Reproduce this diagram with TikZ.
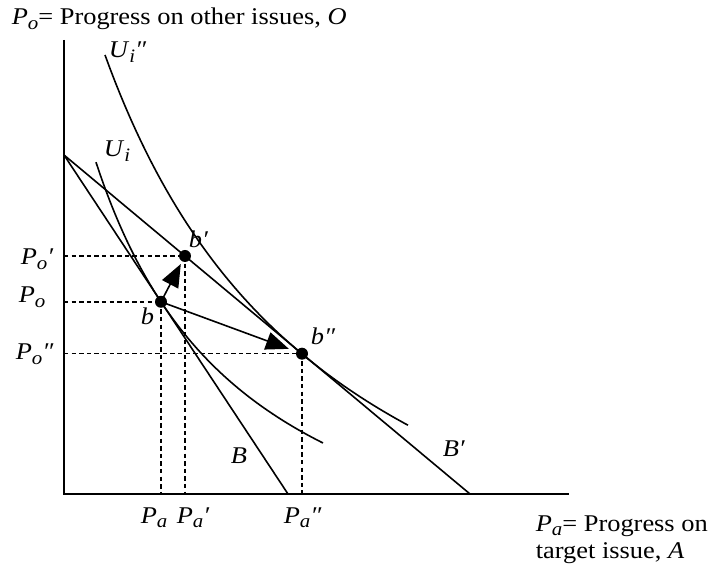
\documentclass[tikz,border=0pt]{standalone}
\usepackage{fontspec}
\setmainfont[FakeStretch=1.1]{Liberation Serif}
\usetikzlibrary{arrows.meta}
\newcommand{\varsub}[2]{\textit{#1}\raisebox{-2.2pt}{\fontsize{9.5}{11}\selectfont\textit{#2}}}

\begin{document}
\begin{tikzpicture}[x=5pt, y=5pt, line width=0.8pt,
  font=\fontsize{12}{13.5}\selectfont,
  axis/.style={line width=1.1pt},
  guide/.style={dash pattern=on 2.2pt off 1.6pt},
  move/.style={-{Triangle[length=11.5pt,width=9pt]}},
  dot/.style={circle, fill, inner sep=0pt, minimum size=6pt},
  lab/.style={anchor=base west, inner sep=0pt}]

  \useasboundingbox (-6.4,-7.4) rectangle (65.4,49.4);

  \coordinate (O) at (0,0);
  \coordinate (Y) at (0,45.4);
  \coordinate (X) at (50.5,0);
  \coordinate (Bt) at (0,33.9);
  \coordinate (B0) at (22.4,0);
  \coordinate (B1) at (40.6,0);
  \coordinate (b) at (9.7,19.22);
  \coordinate (b1) at (12.1,23.8);
  \coordinate (b2) at (23.8,14.03);

  % axes
  \draw[axis] (Y) -- (O) -- (X);

  % budget lines B and B'
  \draw (Bt) -- (B0);
  \draw (Bt) -- (B1);

  % indifference curves U_i and U_i''
  \draw plot[domain=3.2:25.9, samples=60] (\x, {732.3/(\x+12.3)-14.07});
  \draw plot[domain=4.1:34.4, samples=60] (\x, {1601.9/(\x+20)-22.57});

  % dashed guides to the axes
  \foreach \p in {b, b1, b2} {
    \draw[guide] (\p -| O) -- (\p);
    \draw[guide] (\p) -- (\p |- O);
  }

  % moves from b
  \draw[move, shorten >=4.5pt] (b) -- (b1);
  \draw[move, shorten >=7pt] (b) -- (b2);

  \foreach \p in {b, b1, b2} \node[dot] (d\p) at (\p) {};

  % labels
  \node[lab] (lUi2) at (4.4,43.6) {\varsub{U}{i}\textit{″}};
  \node[lab] (lUi)  at (3.9,33.7) {\varsub{U}{i}};
  \node[lab] (lb)   at (7.6,16.9) {\textit{b}};
  \node[lab] (lb1)  at (12.4,24.6) {\textit{b′}};
  \node[lab] (lb2)  at (24.6,14.9) {\textit{b″}};
  \node[lab] (lB)   at (16.6,3.1) {\textit{B}};
  \node[lab] (lB1)  at (37.8,3.7) {\textit{B′}};

  \node[lab] (lPo1) at (-4.4,22.9) {\varsub{P}{o}\textit{′}};
  \node[lab] (lPo)  at (-4.6,19.1) {\varsub{P}{o}};
  \node[lab] (lPo2) at (-4.9,13.4) {\varsub{P}{o}\textit{″}};

  \node[lab] (lPa)  at (7.6,-2.9) {\varsub{P}{a}};
  \node[lab] (lPa1) at (11.2,-2.9) {\varsub{P}{a}\textit{′}};
  \node[lab] (lPa2) at (21.9,-2.9) {\varsub{P}{a}\textit{″}};

  \node[lab] (ylab) at (-5.3,46.9) {\varsub{P}{o}= Progress on other issues, \textit{O}};
  \node[lab, align=left] (xlab) at (47.1,-6.4) {\varsub{P}{a}= Progress on\\target issue, \textit{A}};
\end{tikzpicture}
\end{document}
